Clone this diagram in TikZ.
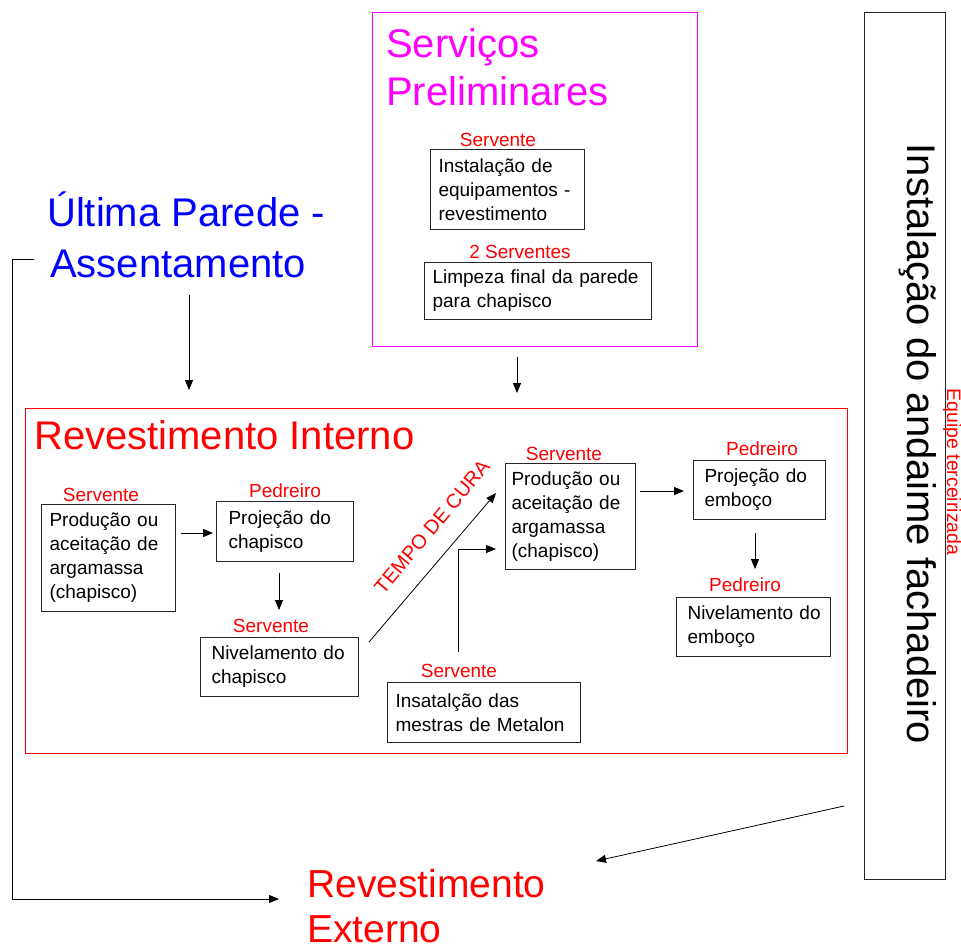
\documentclass[tikz,border=0pt]{standalone}
\usepackage{fontspec}
\setmainfont{Liberation Sans}
\usetikzlibrary{arrows.meta}
\definecolor{mag}{RGB}{255,0,255}
\definecolor{pblue}{RGB}{0,0,255}
\definecolor{pred}{RGB}{255,0,0}
\begin{document}
\begin{tikzpicture}[x=1pt,y=-1pt,
  box/.style={draw=black!85, line width=1.1pt, anchor=north west, align=left,
    inner xsep=8pt, inner ysep=0pt, font=\fontsize{19}{24}\selectfont},
  role/.style={text=pred, font=\fontsize{19}{22}\selectfont, anchor=base, inner sep=0pt},
  bigt/.style={anchor=base west, inner sep=0pt, align=left},
  conn/.style={-{Triangle[length=10pt,width=8pt]}, line width=0.9pt, draw=black},
  frame/.style={line width=1pt, anchor=north west, inner sep=0pt}]
\useasboundingbox (0,0) rectangle (961,946);

% Servicos Preliminares
\node[frame, draw=mag, minimum width=325pt, minimum height=334pt] (sp) at (372,12) {};
\node[bigt, text=mag, font=\fontsize{40}{48}\selectfont] (spt) at (386,105) {Serviços\\Preliminares};
\node[role] (l1) at (498,146) {Servente};
\node[box, minimum width=154pt, minimum height=80pt, text width=138pt] (b1) at (430,149)
  {Instalação de\\equipamentos -\\revestimento};
\node[role] (l2) at (520,258) {2 Serventes};
\node[box, minimum width=227pt, minimum height=57pt, text width=211pt] (b2) at (424,262)
  {Limpeza final da parede\\para chapisco};

% Ultima parede
\node[bigt, text=pblue, font=\fontsize{40}{51}\selectfont] (ult) at (47,277) {Última Parede -\\\hspace*{3pt}Assentamento};

% Revestimento interno
\node[frame, draw=pred, minimum width=822pt, minimum height=345pt] (ri) at (25,408) {};
\node[bigt, text=pred, font=\fontsize{40}{48}\selectfont] (rit) at (34,449) {Revestimento Interno};

\node[role] (lA) at (101,501) {Servente};
\node[box, minimum width=134pt, minimum height=107pt, text width=118pt] (bA) at (41,504)
  {Produção ou\\aceitação de\\argamassa\\(chapisco)};
\node[role] (lB) at (285,497) {Pedreiro};
\node[box, minimum width=137pt, minimum height=60pt, text width=121pt] (bB) at (216,501)
  {\hspace*{4pt}Projeção do\\\hspace*{4pt}chapisco};
\node[role] (lC) at (271,632) {Servente};
\node[box, minimum width=158pt, minimum height=59pt, text width=142pt] (bC) at (200,637)
  {\hspace*{3pt}Nivelamento do\\\hspace*{3pt}chapisco};
\node[role] (lD) at (564,460) {Servente};
\node[box, minimum width=130pt, minimum height=106pt, text width=118pt, inner xsep=6pt] (bD) at (505,463)
  {Produção ou\\aceitação de\\argamassa\\(chapisco)};
\node[role] (lE) at (459,677) {Servente};
\node[box, minimum width=193pt, minimum height=60pt, text width=177pt] (bE) at (387,682)
  {Insatalção das\\mestras de Metalon};
\node[role] (lF) at (762,455) {Pedreiro};
\node[box, minimum width=132pt, minimum height=59pt, text width=116pt] (bF) at (693,460)
  {\hspace*{3pt}Projeção do\\\hspace*{3pt}emboço};
\node[role] (lG) at (745,591) {Pedreiro};
\node[box, minimum width=154pt, minimum height=59pt, text width=138pt] (bG) at (676,597)
  {\hspace*{3pt}Nivelamento do\\\hspace*{3pt}emboço};

\node[text=pred, font=\fontsize{20}{22}\selectfont, rotate=50, inner sep=0pt] (cura) at (432,527) {TEMPO DE CURA};

% Andaime
\node[frame, draw=black!85, line width=1.2pt, minimum width=81pt, minimum height=867pt] (and) at (864,12) {};
\node[rotate=-90, anchor=base, inner sep=0pt, font=\fontsize{40}{48}\selectfont] (andt) at (907,444) {Instalação do andaime fachadeiro};
\node[rotate=-90, anchor=base, inner sep=0pt, text=pred, font=\fontsize{19.5}{22}\selectfont] (eq) at (947,472) {Equipe terceirizada};

% Revestimento externo
\node[bigt, text=pred, font=\fontsize{39}{45}\selectfont] (re) at (307,942) {Revestimento\\Externo};

% connectors
\coordinate (c1a) at (517,357); \coordinate (c1b) at (517,393);
\draw[conn] (c1a) -- (c1b);
\coordinate (c2a) at (189,295); \coordinate (c2b) at (189,390);
\draw[conn] (c2a) -- (c2b);
\coordinate (c3a) at (181,533); \coordinate (c3b) at (213,533);
\draw[conn] (c3a) -- (c3b);
\coordinate (c4a) at (279,573); \coordinate (c4b) at (279,610);
\draw[conn] (c4a) -- (c4b);
\coordinate (c5a) at (369,642); \coordinate (c5b) at (496,493);
\draw[conn, line width=0.8pt] (c5a) -- (c5b);
\coordinate (c6a) at (458,652); \coordinate (c6b) at (496,549);
\draw[conn] (c6a) |- (c6b);
\coordinate (c7a) at (640,491); \coordinate (c7b) at (684,491);
\draw[conn] (c7a) -- (c7b);
\coordinate (c8a) at (755,533); \coordinate (c8b) at (755,569);
\draw[conn] (c8a) -- (c8b);
\coordinate (c9a) at (844,806); \coordinate (c9b) at (596,861);
\draw[conn, line width=0.8pt] (c9a) -- (c9b);
\coordinate (c10a) at (34,259); \coordinate (c10b) at (279,899);
\draw[conn] (c10a) -- (12,259) |- (c10b);
\end{tikzpicture}
\end{document}
